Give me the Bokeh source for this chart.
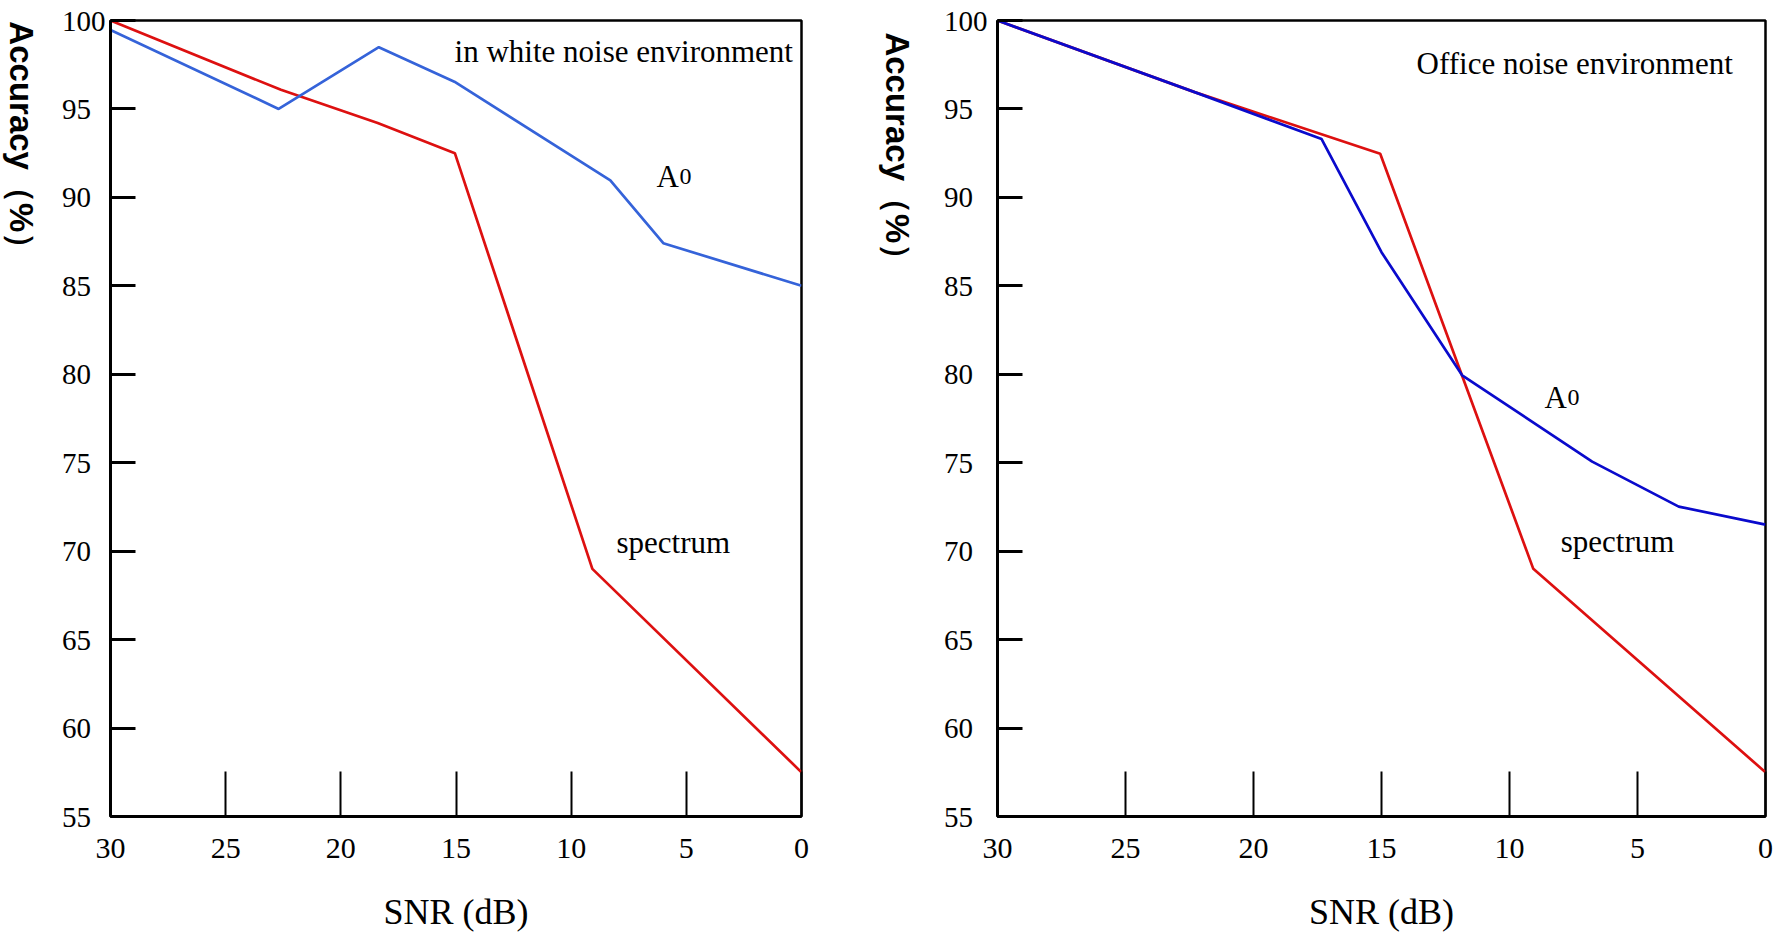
import math
from bokeh.plotting import figure
from bokeh.layouts import row
from bokeh.models import Range1d, FixedTicker, Label
from bokeh.embed import file_html
from bokeh.resources import INLINE

# ---------------- data ----------------
snr_ticks = [30, 25, 20, 15, 10, 5, 0]
acc_ticks = [55, 60, 65, 70, 75, 80, 85, 90, 95, 100]

white_a0_snr = [30, 22.7, 18.35, 15.07, 8.3, 6.0, 0]
white_a0_acc = [99.47, 95.0, 98.49, 96.54, 90.96, 87.41, 85.0]
white_spec_snr = [30, 22.6, 18.4, 15.05, 9.08, 0]
white_spec_acc = [100, 96.08, 94.2, 92.5, 69.0, 57.5]

office_a0_snr = [30, 22.3, 17.34, 15.0, 11.85, 6.77, 3.39, 0]
office_a0_acc = [100, 95.95, 93.3, 86.9, 79.94, 75.06, 72.52, 71.5]
office_spec_snr = [30, 22.3, 15.05, 9.07, 0]
office_spec_acc = [100, 95.95, 92.47, 69.0, 57.5]

x_title = "SNR (dB)"
y_title = "Accuracy（%）"
white_title = "in white noise environment"
office_title = "Office noise environment"

SERIF = "Liberation Serif"
RED = "#dd1010"
BLUE_L = "#3563d9"
BLUE_R = "#0a0acc"
H = 937


def make_fig(width, border_left, border_right, border_top, border_bottom, ystandoff):
    p = figure(width=width, height=H,
               x_range=Range1d(30, 0), y_range=Range1d(55, 100),
               output_backend="svg", toolbar_location=None,
               min_border_left=border_left, min_border_right=border_right,
               min_border_top=border_top, min_border_bottom=border_bottom)
    p.grid.visible = False
    p.outline_line_color = "black"
    p.outline_line_width = 2.5
    p.background_fill_color = "white"
    p.border_fill_color = "white"

    xa = p.xaxis[0]
    xa.ticker = FixedTicker(ticks=snr_ticks)
    xa.axis_line_width = 3
    xa.major_tick_in = 45
    xa.major_tick_out = 0
    xa.major_tick_line_width = 2
    xa.minor_tick_line_color = None
    xa.major_label_text_font = SERIF
    xa.major_label_text_font_size = "30px"
    xa.major_label_text_color = "black"
    xa.major_label_standoff = 22
    xa.axis_label = x_title
    xa.axis_label_text_font = SERIF
    xa.axis_label_text_font_size = "36px"
    xa.axis_label_text_font_style = "normal"
    xa.axis_label_text_color = "black"
    xa.axis_label_standoff = 31

    ya = p.yaxis[0]
    ya.ticker = FixedTicker(ticks=acc_ticks)
    ya.axis_line_width = 3
    ya.major_tick_in = 25
    ya.major_tick_out = 0
    ya.major_tick_line_width = 3
    ya.minor_tick_line_color = None
    ya.major_label_text_font = SERIF
    ya.major_label_text_font_size = "29px"
    ya.major_label_text_color = "black"
    ya.major_label_standoff = ystandoff
    ya.major_label_overrides = {t: (str(t) if t >= 100 else str(t) + "\u2002") for t in acc_ticks}
    return p


def make_ylabel_fig(width, center_x, top_y):
    """Narrow strip holding the rotated y-axis title (reads top to bottom)."""
    f = figure(width=width, height=H, x_range=Range1d(0, width), y_range=Range1d(0, H),
               x_axis_type=None, y_axis_type=None,
               output_backend="svg", toolbar_location=None,
               min_border=0, min_border_left=0, min_border_right=0,
               min_border_top=0, min_border_bottom=0)
    f.grid.visible = False
    f.outline_line_color = None
    f.background_fill_color = "white"
    f.border_fill_color = "white"
    f.add_layout(Label(x=center_x, y=H - top_y, text=y_title, angle=-math.pi / 2,
                       text_align="left", text_baseline="middle",
                       text_font="Liberation Sans", text_font_size="33px",
                       text_font_style="bold", text_color="black"))
    return f


def add_text(p, x, y, txt, size="31px", x_offset=0):
    p.add_layout(Label(x=x, y=y, x_offset=x_offset, y_offset=11, text=txt,
                       text_align="left", text_baseline="alphabetic",
                       text_font=SERIF, text_font_size=size,
                       text_color="black"))


# horizontal layout (pixels): [label L][plot L][label R][plot R]
LAB_L_W = 56
R_LAB0 = 862               # right label strip starts
R0 = 928                   # right plot starts
TOTAL_W = 1775

labL = make_ylabel_fig(LAB_L_W, 21, 1)

# ---------------- left: white noise ----------------
pl = make_fig(R_LAB0 - LAB_L_W, 110 - LAB_L_W, R_LAB0 - 801, 20, H - 816, 5)
pl.line(white_spec_snr, white_spec_acc, line_color=RED, line_width=2.7)
pl.line(white_a0_snr, white_a0_acc, line_color=BLUE_L, line_width=2.7)
add_text(pl, 15.06, 97.63, white_title)
add_text(pl, 6.29, 90.56, "A")
add_text(pl, 6.29, 90.56, "0", size="24px", x_offset=23)
add_text(pl, 8.03, 69.89, "spectrum")

labR = make_ylabel_fig(R0 - R_LAB0, 897 - R_LAB0, 14)

# ---------------- right: office noise ----------------
pr = make_fig(TOTAL_W - R0, 997 - R0, TOTAL_W - 1765, 17, H - 816, 10)
pr.line(office_spec_snr, office_spec_acc, line_color=RED, line_width=2.7)
pr.line(office_a0_snr, office_a0_acc, line_color=BLUE_R, line_width=2.7)
add_text(pr, 13.63, 96.94, office_title)
add_text(pr, 8.63, 78.06, "A")
add_text(pr, 8.63, 78.06, "0", size="24px", x_offset=23)
add_text(pr, 8.0, 69.95, "spectrum")

layout = row(labL, pl, labR, pr)
open("out.html", "w").write(file_html(layout, INLINE))
